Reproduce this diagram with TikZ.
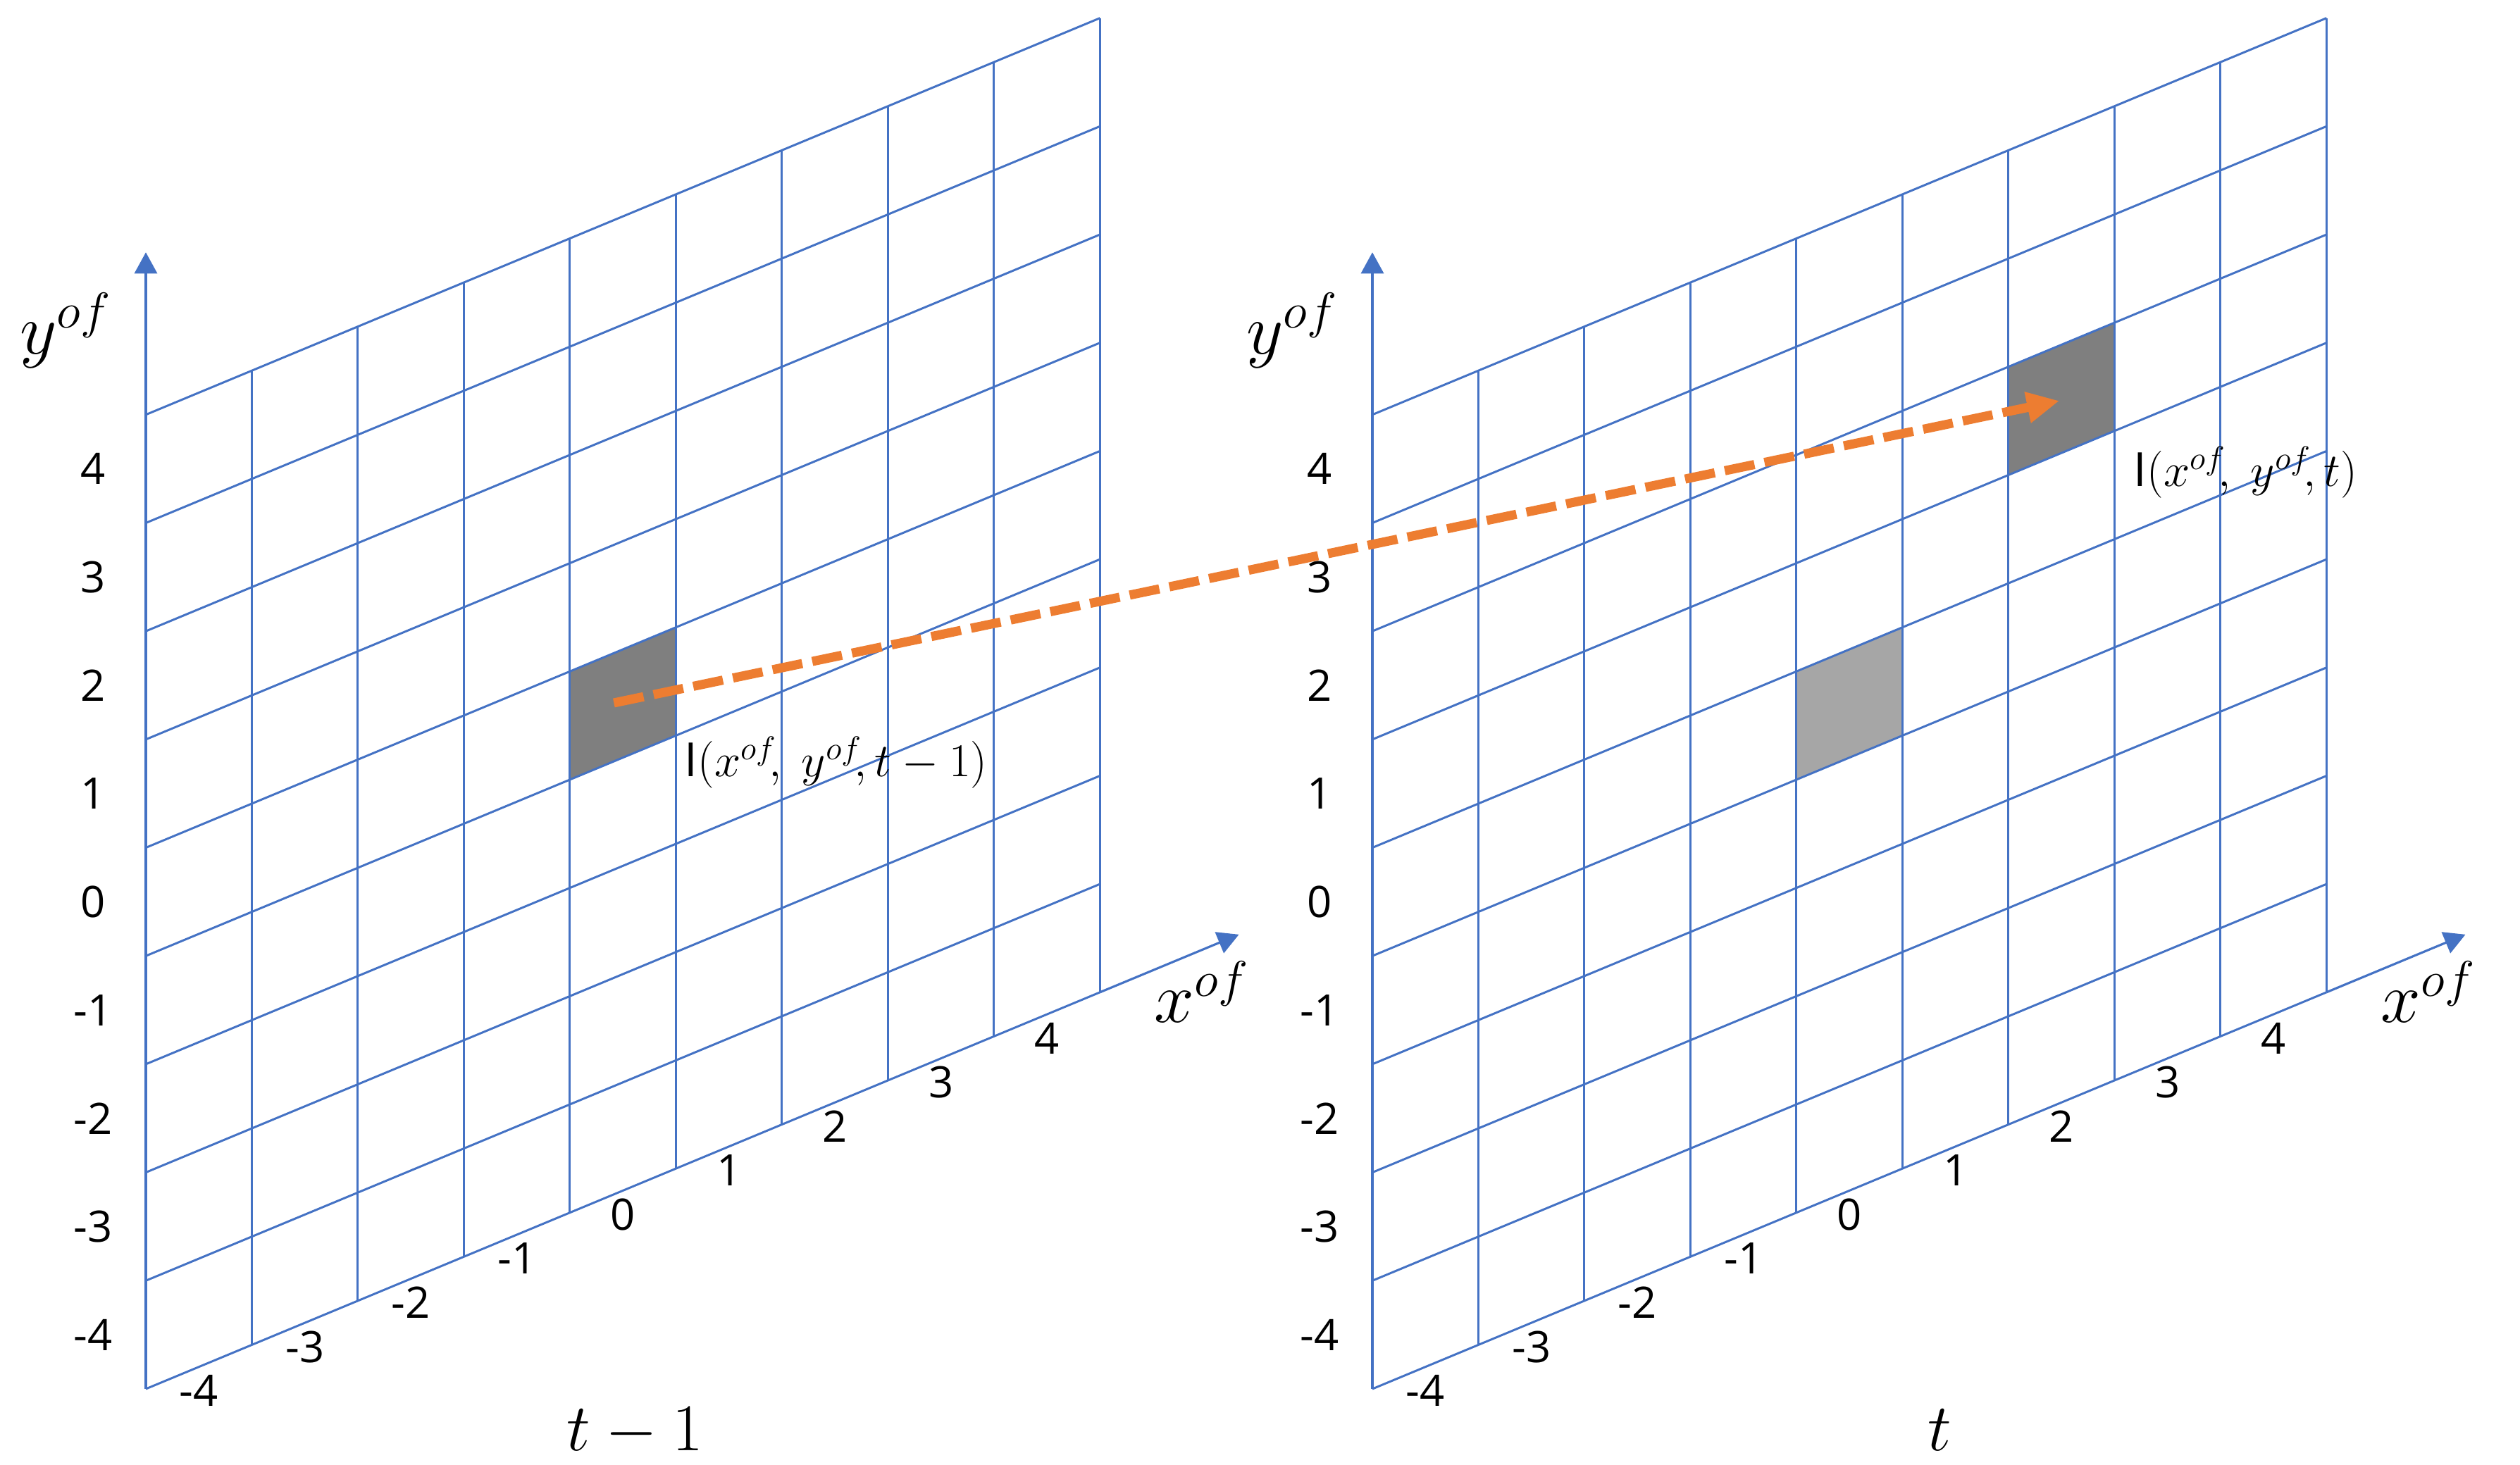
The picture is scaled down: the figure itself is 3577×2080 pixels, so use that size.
\RequirePackage{fix-cm}
\documentclass[tikz,border=0pt]{standalone}
\usepackage{fontspec}
\setmainfont{Open Sans}
\usetikzlibrary{arrows.meta}
\definecolor{gridblue}{HTML}{4472C4}
\definecolor{arrorange}{HTML}{ED7D31}
\definecolor{cellDark}{HTML}{7F7F7F}
\definecolor{cellLight}{HTML}{A6A6A6}
\begin{document}
\begin{tikzpicture}[x=0.01cm,y=-0.01cm,
  gridline/.style={draw=gridblue,line width=0.85pt},
  axisline/.style={draw=gridblue,line width=0.9pt,-{Triangle[length=0.3cm,width=0.32cm]}},
  ticklbl/.style={font=\fontsize{17.5}{20}\selectfont,inner sep=0pt},
  axlbl/.style={font=\fontsize{29}{34}\selectfont,inner sep=0pt},
  titlelbl/.style={font=\fontsize{27}{32}\selectfont,inner sep=0pt,anchor=base},
  cellname/.style={font=\fontsize{19}{22}\selectfont,inner sep=0pt,anchor=base west},
  flowarrow/.style={draw=arrorange,line width=0.13cm,dash pattern=on 0.43cm off 0.145cm,-{Triangle[length=0.46cm,width=0.42cm]}},
  leftgrid/.style={shift={(207,1972)},x={(1.504cm,0.6254cm)},y={(0cm,1.536cm)}},
  rightgrid/.style={shift={(1948,1972)},x={(1.504cm,0.6254cm)},y={(0cm,1.536cm)}}]
\useasboundingbox (0,0) rectangle (3577,2080);

% ---------- left grid (t-1) ----------
\begin{scope}[leftgrid]
  \fill[cellDark] (4,4) -- (5,4) -- (5,5) -- (4,5) -- cycle;
  \foreach \i in {0,...,9} \draw[gridline] (\i,0) -- (\i,9);
  \foreach \j in {0,...,9} \draw[gridline] (0,\j) -- (9,\j);
  \draw[axisline] (0,0) -- (0,10.5);
  \draw[axisline] (9,0) -- (10.31,0);
  \foreach \r in {0,...,8}{
    \pgfmathtruncatemacro{\v}{\r-4}
    \node[ticklbl] (yL\r) at ([xshift=-0.75cm]0,\r+0.5) {\v};
    \node[ticklbl] (xL\r) at ([yshift=-0.34cm]\r+0.5,0) {\v};
  }
  \coordinate (srcL) at (4.415,4.54);
\end{scope}

% ---------- right grid (t) ----------
\begin{scope}[rightgrid]
  \fill[cellLight] (4,4) -- (5,4) -- (5,5) -- (4,5) -- cycle;
  \fill[cellDark] (6,6) -- (7,6) -- (7,7) -- (6,7) -- cycle;
  \foreach \i in {0,...,9} \draw[gridline] (\i,0) -- (\i,9);
  \foreach \j in {0,...,9} \draw[gridline] (0,\j) -- (9,\j);
  \draw[axisline] (0,0) -- (0,10.5);
  \draw[axisline] (9,0) -- (10.31,0);
  \foreach \r in {0,...,8}{
    \pgfmathtruncatemacro{\v}{\r-4}
    \node[ticklbl] (yR\r) at ([xshift=-0.75cm]0,\r+0.5) {\v};
    \node[ticklbl] (xR\r) at ([yshift=-0.34cm]\r+0.5,0) {\v};
  }
  \coordinate (dstR) at (6.48,6.49);
\end{scope}

% ---------- flow arrow ----------
\draw[flowarrow] (srcL) -- (dstR);

% ---------- labels ----------
\node[axlbl] (ylabL) at (93,469) {$y^{of}$};
\node[axlbl] (xlabL) at (1706,1408) {$x^{of}$};
\node[axlbl] (ylabR) at (1834,469) {$y^{of}$};
\node[axlbl] (xlabR) at (3447,1408) {$x^{of}$};

\node[cellname] (IL) at (971,1103) {I$(x^{of}\!,\ y^{of}\!,t-1)$};
\node[cellname] (IR) at (3028,691) {I$(x^{of}\!,\ y^{of}\!,t)$};

\node[titlelbl] (tL) at (901,2060) {$t-1$};
\node[titlelbl] (tR) at (2753,2060) {$t$};
\end{tikzpicture}
\end{document}
